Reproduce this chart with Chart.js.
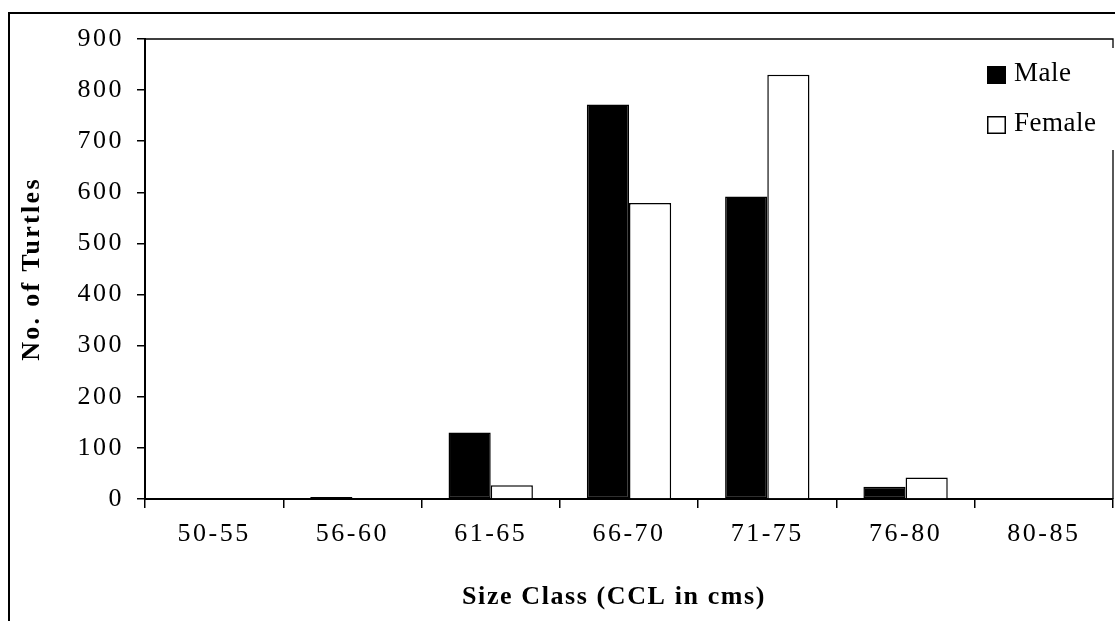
<!DOCTYPE html>
<html>
<head>
<meta charset="utf-8">
<script src="https://cdn.jsdelivr.net/npm/chart.js@4/dist/chart.umd.min.js"></script>
<style>
html,body{margin:0;padding:0;background:#fff;}
canvas{display:block;}
</style>
</head>
<body>
<canvas id="c" width="1115" height="621"></canvas>
<script>
const categories = ['50-55','56-60','61-65','66-70','71-75','76-80','80-85'];
const maleValues = [0, 4, 130, 772, 592, 24, 0];
const femaleValues = [0, 0, 27, 579, 830, 42, 0];
const yTicks = [0,100,200,300,400,500,600,700,800,900];
const seriesNames = ['Male','Female'];
const xTitle = 'Size Class (CCL in cms)';
const yTitle = 'No. of Turtles';

const SERIF = "'Liberation Serif', 'Times New Roman', serif";

const framePlugin = {
  id: 'framePlugin',
  beforeDraw(chart) {
    const ctx = chart.ctx;
    ctx.letterSpacing = '2.5px';
    Object.values(chart.scales).forEach(s => {
      if (s._patched) return;
      const orig = s.drawTitle;
      const isX = s.axis === 'x';
      const sp = isX ? '1.6px' : '2.3px';
      s.drawTitle = function() {
        const c = this.ctx;
        c.save();
        c.letterSpacing = sp;
        if (isX) c.translate(-15, 0);
        orig.call(this);
        c.restore();
      };
      s._patched = true;
    });
    ctx.save();
    ctx.letterSpacing = '0px';
    ctx.strokeStyle = '#000';
    ctx.lineWidth = 2;
    ctx.strokeRect(9, 13, 1300, 800);
    ctx.restore();
  },
  afterDraw(chart) {
    const ctx = chart.ctx;
    const a = chart.chartArea;
    ctx.save();
    ctx.letterSpacing = '0px';
    ctx.strokeStyle = '#000';
    ctx.lineWidth = 1.3;
    ctx.beginPath();
    ctx.moveTo(a.left, a.top);
    ctx.lineTo(a.right, a.top);
    ctx.lineTo(a.right, a.bottom);
    ctx.stroke();
    // legend background
    ctx.fillStyle = '#fff';
    ctx.fillRect(975, 48, 145, 102);
    // legend items from datasets
    ctx.font = '27px ' + SERIF;
    ctx.letterSpacing = '0.5px';
    ctx.textBaseline = 'alphabetic';
    ctx.textAlign = 'left';
    chart.data.datasets.forEach((ds, i) => {
      const yb = 81 + i * 50;
      const top = yb - 15;
      ctx.fillStyle = ds.backgroundColor;
      ctx.fillRect(987, top, 19, 18);
      ctx.strokeStyle = '#000';
      ctx.lineWidth = 1.5;
      ctx.strokeRect(987.75, top + 0.75, 17.5, 16.5);
      ctx.fillStyle = '#000';
      ctx.fillText(ds.label, 1014, yb);
    });
    ctx.restore();
  }
};

new Chart(document.getElementById('c'), {
  type: 'bar',
  data: {
    labels: categories,
    datasets: [
      { label: seriesNames[0], data: maleValues, backgroundColor: '#000', borderColor: '#000', borderWidth: 1.5, borderSkipped: false },
      { label: seriesNames[1], data: femaleValues, backgroundColor: '#fff', borderColor: '#000', borderWidth: 1.5, borderSkipped: 'bottom' }
    ]
  },
  options: {
    responsive: false,
    animation: false,
    devicePixelRatio: 1,
    layout: { padding: { left: 0, top: 39, right: 2, bottom: 0 } },
    datasets: { bar: { categoryPercentage: 0.61, barPercentage: 1.0 } },
    plugins: { legend: { display: false }, tooltip: { enabled: false } },
    scales: {
      x: {
        afterFit: (s) => { s.height = 122; },
        grid: { drawOnChartArea: false, drawTicks: true, tickLength: 9, color: '#000', lineWidth: 1.5, offset: true },
        border: { display: true, color: '#000', width: 2 },
        ticks: { color: '#000', font: { family: SERIF, size: 26 }, padding: 11, maxRotation: 0, autoSkip: false },
        title: { display: true, text: xTitle, color: '#000', font: { family: SERIF, size: 26, weight: 'bold' }, padding: { top: 0, bottom: 8 } }
      },
      y: {
        min: 0, max: 900,
        afterFit: (s) => { s.width = 145; },
        afterBuildTicks: (s) => { s.ticks = yTicks.map(v => ({ value: v })); },
        grid: { drawOnChartArea: false, drawTicks: true, tickLength: 8, color: '#000', lineWidth: 1.5 },
        border: { display: true, color: '#000', width: 2 },
        ticks: { color: '#000', font: { family: SERIF, size: 26 }, padding: 13 },
        title: { display: true, text: yTitle, color: '#000', font: { family: SERIF, size: 26, weight: 'bold' }, padding: { top: 17, bottom: 0 } }
      }
    }
  },
  plugins: [framePlugin]
});
</script>
</body>
</html>
